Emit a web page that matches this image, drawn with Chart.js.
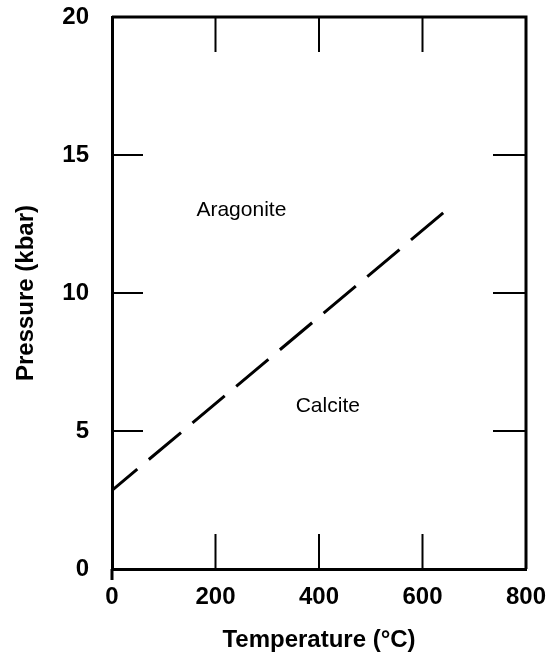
<!DOCTYPE html>
<html lang="en">
<head>
    <meta charset="UTF-8">
    <title>Aragonite - Calcite</title>
    <script src="https://cdn.jsdelivr.net/npm/chart.js"></script>
    <style>
        body {
            margin: 0;
            padding: 0;
            background-color: #fff;
        }
        .chart-container {
            width: 547px;
            height: 655px;
        }
    </style>
</head>
<body>
    <div class="chart-container">
        <canvas id="phaseChart"></canvas>
    </div>

    <script>
        // Граница арагонит / кальцит
        const boundaryT = [0, 640];
        const boundaryP = [2.85, 12.9];

        // Подписи полей
        const fieldNames = ['Aragonite', 'Calcite'];
        const fieldT = [250, 417];
        const fieldP = [13.0, 5.9];

        // Внутренние засечки
        const innerTicksX = [200, 400, 600];
        const innerTicksY = [5, 10, 15];

        const FONT = '"Liberation Sans", Arial, sans-serif';

        // Рамка, внутренние засечки и подписи полей
        const framePlugin = {
            id: 'frame',
            afterDraw(chart) {
                const ctx = chart.ctx;
                const area = chart.chartArea;
                const xs = chart.scales.x;
                const ys = chart.scales.y;
                ctx.save();
                ctx.strokeStyle = '#000';

                ctx.lineWidth = 3;
                ctx.beginPath();
                ctx.moveTo(area.left, area.top);
                ctx.lineTo(area.right, area.top);
                ctx.lineTo(area.right, area.bottom);
                // ось Y чуть ниже оси X
                ctx.moveTo(xs.getPixelForValue(0), area.bottom);
                ctx.lineTo(xs.getPixelForValue(0), area.bottom + 11);
                ctx.stroke();

                ctx.lineWidth = 2;
                ctx.beginPath();
                innerTicksX.forEach(v => {
                    const px = xs.getPixelForValue(v);
                    ctx.moveTo(px, area.top);
                    ctx.lineTo(px, area.top + 35);
                    ctx.moveTo(px, area.bottom);
                    ctx.lineTo(px, area.bottom - 35);
                });
                innerTicksY.forEach(v => {
                    const py = ys.getPixelForValue(v);
                    ctx.moveTo(area.left, py);
                    ctx.lineTo(area.left + 31, py);
                    ctx.moveTo(area.right, py);
                    ctx.lineTo(area.right - 33, py);
                });
                ctx.stroke();

                ctx.fillStyle = '#000';
                ctx.font = '21px ' + FONT;
                ctx.textAlign = 'center';
                ctx.textBaseline = 'middle';
                fieldNames.forEach((name, i) => {
                    ctx.fillText(name, xs.getPixelForValue(fieldT[i]), ys.getPixelForValue(fieldP[i]));
                });
                ctx.restore();
            }
        };

        const ctx = document.getElementById('phaseChart').getContext('2d');
        const phaseChart = new Chart(ctx, {
            type: 'line',
            data: {
                datasets: [{
                    data: boundaryT.map((t, i) => ({ x: t, y: boundaryP[i] })),
                    borderColor: '#000',
                    borderWidth: 3,
                    borderDash: [42, 15],
                    borderDashOffset: 9,
                    pointRadius: 0,
                    fill: false,
                    tension: 0
                }]
            },
            options: {
                responsive: true,
                maintainAspectRatio: false,
                animation: false,
                layout: {
                    padding: { top: 17, right: 21, bottom: 0, left: 0 }
                },
                plugins: {
                    legend: { display: false },
                    tooltip: { enabled: false }
                },
                scales: {
                    x: {
                        type: 'linear',
                        min: 0,
                        max: 800,
                        grid: { display: false },
                        border: { display: true, color: '#000', width: 3 },
                        ticks: {
                            stepSize: 200,
                            padding: 6,
                            color: '#000',
                            font: { family: FONT, size: 24, weight: 'bold' }
                        },
                        title: {
                            display: true,
                            text: 'Temperature (°C)',
                            color: '#000',
                            padding: { top: 0, bottom: 0 },
                            font: { family: FONT, size: 24, weight: 'bold' }
                        },
                        afterFit(scale) {
                            scale.height = 86;
                            scale.paddingLeft = 0;
                            scale.paddingRight = 0;
                        }
                    },
                    y: {
                        type: 'linear',
                        min: 0,
                        max: 20,
                        grid: { display: false },
                        border: { display: true, color: '#000', width: 3 },
                        ticks: {
                            stepSize: 5,
                            padding: 15,
                            color: '#000',
                            font: { family: FONT, size: 24, weight: 'bold' }
                        },
                        title: {
                            display: true,
                            text: 'Pressure (kbar)',
                            color: '#000',
                            padding: { top: 12, bottom: 0 },
                            font: { family: FONT, size: 24, weight: 'bold' }
                        },
                        afterFit(scale) {
                            scale.width = 112;
                            scale.paddingTop = 0;
                            scale.paddingBottom = 0;
                        }
                    }
                }
            },
            plugins: [framePlugin]
        });
    </script>
</body>
</html>
